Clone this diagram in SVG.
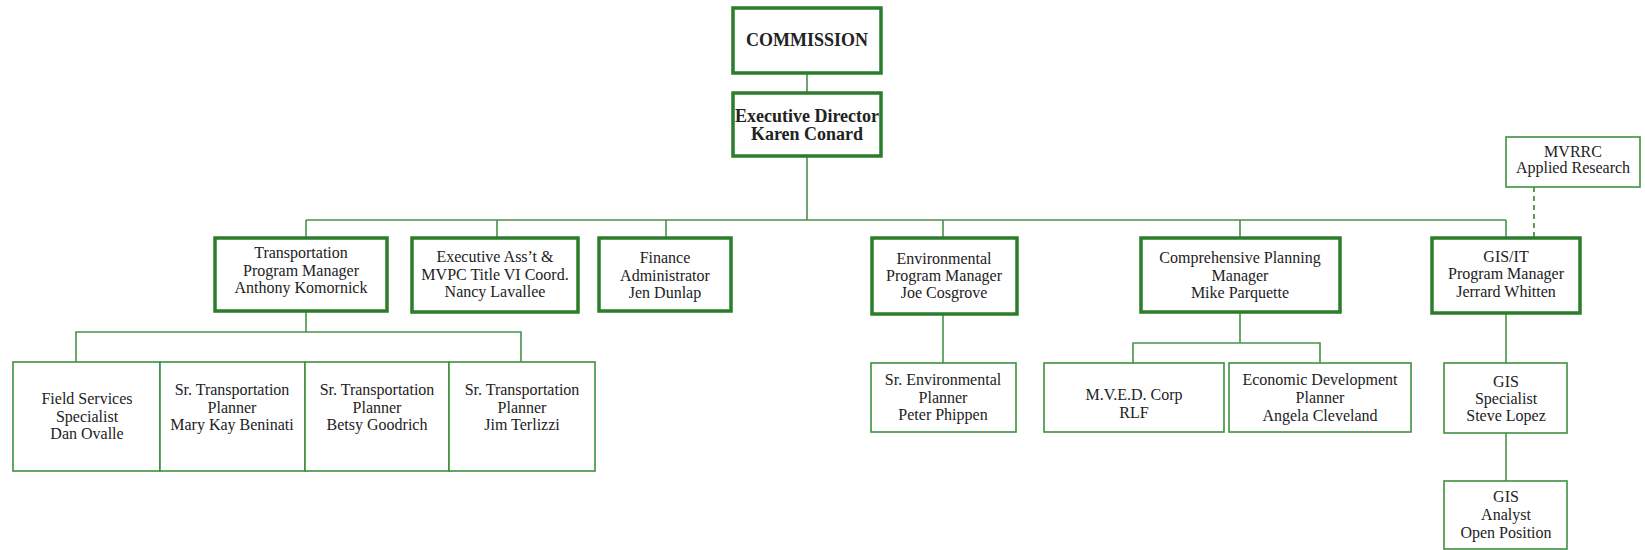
<svg xmlns="http://www.w3.org/2000/svg" width="1645" height="550" viewBox="0 0 1645 550">
<style>
.bg{fill:#ffffff}
.thick{fill:#ffffff;stroke:#2a7d2a;stroke-width:3.5}
.thin{fill:#ffffff;stroke:#3f8f3f;stroke-width:1.6}
.line{fill:none;stroke:#4a914a;stroke-width:1.6}
.dash{fill:none;stroke:#4a914a;stroke-width:1.8;stroke-dasharray:5,4}
text{font-family:"Liberation Serif","Times New Roman",serif;font-size:16px;fill:#222;text-anchor:middle}
.b{font-weight:bold;font-size:18px}
</style>
<rect class="bg" width="1645" height="550"/>
<g id="connectors">
<path class="line" d="M807,73V93"/>
<path class="line" d="M807,156V220"/>
<path class="line" d="M306,220H1506"/>
<path class="line" d="M306,220V238M497,220V238M666,220V238M943,220V238M1240,220V238M1506,220V238"/>
<path class="dash" d="M1534,187V238"/>
<path class="line" d="M306,311V332M76,362V332H521V362"/>
<path class="line" d="M943,314V363"/>
<path class="line" d="M1240,312V343M1133,363V343H1320V363"/>
<path class="line" d="M1506,313V363"/>
<path class="line" d="M1506,433V481"/>
</g>
<g id="commission"><rect class="thick" x="733" y="8" width="148" height="65"/><text class="b" x="807" y="46">COMMISSION</text></g>
<g id="exec-director"><rect class="thick" x="733" y="93" width="148" height="63"/><text class="b" x="807" y="122">Executive Director</text><text class="b" x="807" y="140">Karen Conard</text></g>
<g id="transportation"><rect class="thick" x="215" y="238" width="172" height="73"/><text x="301" y="258">Transportation</text><text x="301" y="276">Program Manager</text><text x="301" y="293">Anthony Komornick</text></g>
<g id="exec-asst"><rect class="thick" x="412" y="238" width="166" height="74"/><text x="495" y="262">Executive Ass’t &amp;</text><text x="495" y="280">MVPC Title VI Coord.</text><text x="495" y="297">Nancy Lavallee</text></g>
<g id="finance"><rect class="thick" x="599" y="238" width="132" height="73"/><text x="665" y="263">Finance</text><text x="665" y="281">Administrator</text><text x="665" y="298">Jen Dunlap</text></g>
<g id="environmental"><rect class="thick" x="872" y="238" width="145" height="76"/><text x="944" y="264">Environmental</text><text x="944" y="281">Program Manager</text><text x="944" y="298">Joe Cosgrove</text></g>
<g id="comprehensive"><rect class="thick" x="1141" y="238" width="199" height="74"/><text x="1240" y="263">Comprehensive Planning</text><text x="1240" y="281">Manager</text><text x="1240" y="298">Mike Parquette</text></g>
<g id="gis-it"><rect class="thick" x="1432" y="238" width="148" height="75"/><text x="1506" y="262">GIS/IT</text><text x="1506" y="279">Program Manager</text><text x="1506" y="297">Jerrard Whitten</text></g>
<g id="mvrrc"><rect class="thin" x="1506" y="137" width="134" height="50"/><text x="1573" y="157">MVRRC</text><text x="1573" y="173">Applied Research</text></g>
<g id="field-services"><rect class="thin" x="13" y="362" width="147" height="109"/><text x="87" y="404">Field Services</text><text x="87" y="422">Specialist</text><text x="87" y="439">Dan Ovalle</text></g>
<g id="sr-trans-1"><rect class="thin" x="160" y="362" width="145" height="109"/><text x="232" y="395">Sr. Transportation</text><text x="232" y="413">Planner</text><text x="232" y="430">Mary Kay Beninati</text></g>
<g id="sr-trans-2"><rect class="thin" x="305" y="362" width="144" height="109"/><text x="377" y="395">Sr. Transportation</text><text x="377" y="413">Planner</text><text x="377" y="430">Betsy Goodrich</text></g>
<g id="sr-trans-3"><rect class="thin" x="449" y="362" width="146" height="109"/><text x="522" y="395">Sr. Transportation</text><text x="522" y="413">Planner</text><text x="522" y="430">Jim Terlizzi</text></g>
<g id="sr-env"><rect class="thin" x="871" y="363" width="145" height="69"/><text x="943" y="385">Sr. Environmental</text><text x="943" y="403">Planner</text><text x="943" y="420">Peter Phippen</text></g>
<g id="mved"><rect class="thin" x="1044" y="363" width="180" height="69"/><text x="1134" y="400">M.V.E.D. Corp</text><text x="1134" y="418">RLF</text></g>
<g id="econ-dev"><rect class="thin" x="1229" y="363" width="182" height="69"/><text x="1320" y="385">Economic Development</text><text x="1320" y="403">Planner</text><text x="1320" y="421">Angela Cleveland</text></g>
<g id="gis-specialist"><rect class="thin" x="1444" y="363" width="123" height="70"/><text x="1506" y="387">GIS</text><text x="1506" y="404">Specialist</text><text x="1506" y="421">Steve Lopez</text></g>
<g id="gis-analyst"><rect class="thin" x="1444" y="481" width="123" height="68"/><text x="1506" y="502">GIS</text><text x="1506" y="520">Analyst</text><text x="1506" y="538">Open Position</text></g>
</svg>
